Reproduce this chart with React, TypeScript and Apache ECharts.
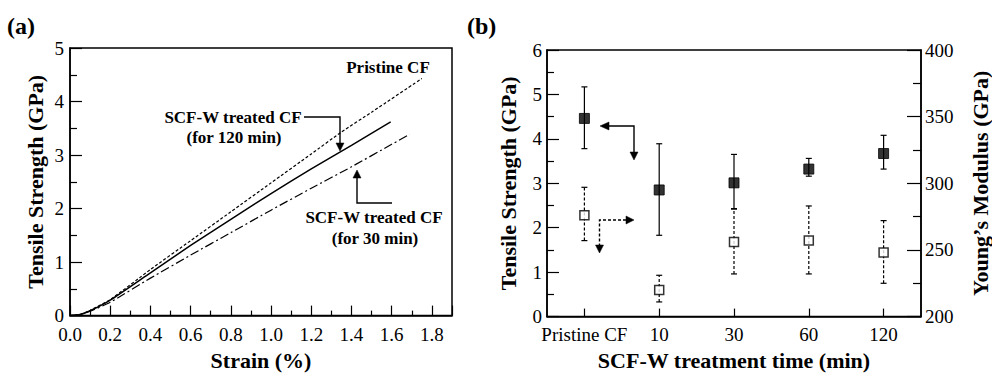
import React, { useEffect, useRef } from "react";
import * as echarts from "echarts";

// Panel (a): stress-strain curves
const strainPristine = [0, 0.05, 0.1, 0.2, 0.4, 0.6, 0.8, 1.0, 1.2, 1.35, 1.5, 1.75];
const stressPristine = [0, 0.02, 0.1, 0.3, 0.86, 1.4, 1.94, 2.48, 3.02, 3.43, 3.8, 4.43];
const strain120 = [0, 0.05, 0.1, 0.2, 0.4, 0.6, 0.8, 1.0, 1.2, 1.4, 1.595];
const stress120 = [0, 0.02, 0.09, 0.29, 0.8, 1.31, 1.8, 2.28, 2.74, 3.18, 3.62];
const strain30 = [0, 0.05, 0.1, 0.2, 0.4, 0.6, 0.8, 1.0, 1.2, 1.4, 1.6, 1.69];
const stress30 = [0, 0.02, 0.08, 0.25, 0.7, 1.13, 1.55, 1.97, 2.38, 2.78, 3.2, 3.39];

// Panel (b): strength and modulus vs treatment time
const categories = ["Pristine CF", "10", "30", "60", "120"];
const tensileMean = [4.46, 2.85, 3.01, 3.32, 3.67];
const tensileLow = [3.78, 1.83, 2.42, 3.16, 3.32];
const tensileHigh = [5.17, 3.89, 3.65, 3.56, 4.08];
const modulusMean = [276, 220, 256, 257, 248];
const modulusLow = [257, 211, 232, 232, 225];
const modulusHigh = [297, 231, 281, 283, 272];

const FONT = "'Liberation Serif', 'Times New Roman', serif";
const BLACK = "#000";

const zip = (a: number[], b: number[]) => a.map((v, i) => [v, b[i]]);

function errorBarSeries(low: number[], high: number[], yAxisIndex: number, dashed: boolean) {
  return {
    type: "custom",
    xAxisIndex: 1,
    yAxisIndex,
    z: 2,
    data: low.map((l, i) => [i, l, high[i]]),
    encode: { x: 0, y: [1, 2] },
    renderItem: (params: any, api: any) => {
      const lo = api.coord([api.value(0), api.value(1)]);
      const hi = api.coord([api.value(0), api.value(2)]);
      const cap = 3;
      const style = {
        stroke: BLACK,
        lineWidth: 1.2,
        lineDash: dashed ? [3, 2] : null,
      };
      const capStyle = { stroke: BLACK, lineWidth: 1.2 };
      return {
        type: "group",
        children: [
          { type: "line", shape: { x1: lo[0], y1: lo[1], x2: hi[0], y2: hi[1] }, style },
          { type: "line", shape: { x1: lo[0] - cap, y1: lo[1], x2: lo[0] + cap, y2: lo[1] }, style: capStyle },
          { type: "line", shape: { x1: hi[0] - cap, y1: hi[1], x2: hi[0] + cap, y2: hi[1] }, style: capStyle },
        ],
      };
    },
  };
}

export default function App() {
  const ref = useRef<HTMLDivElement>(null);

  useEffect(() => {
    document.body.style.margin = "0";
    if (!ref.current) return;
    const chart = echarts.init(ref.current, null, { renderer: "svg" });

    const tickLabel = { color: BLACK, fontFamily: FONT, fontSize: 19 };
    const yTickLabel = { ...tickLabel, lineHeight: 14 };
    const nameStyle = { color: BLACK, fontFamily: FONT, fontSize: 22, fontWeight: "bold" as const };
    const axisLine = { show: true, lineStyle: { color: BLACK, width: 1.5 } };

    const annText = (text: string, x: number, y: number) => ({
      type: "text",
      x,
      y,
      style: {
        text,
        fill: BLACK,
        font: `bold 17px ${FONT}`,
        align: "center",
        verticalAlign: "middle",
      },
    });
    const arrowStyle = { fill: BLACK, stroke: BLACK, lineWidth: 0.5 };
    const lineStyle = { stroke: BLACK, lineWidth: 1.4, fill: null };
    const dashStyle = { stroke: BLACK, lineWidth: 1.4, fill: null, lineDash: [3, 2] };

    const option: any = {
      animation: false,
      backgroundColor: "#fff",
      grid: [
        { left: 70, top: 48, width: 382, height: 275, show: true, borderColor: BLACK, borderWidth: 1.5, backgroundColor: "transparent" },
        { left: 547, top: 50, width: 375, height: 273, show: true, borderColor: BLACK, borderWidth: 1.5, backgroundColor: "transparent" },
      ],
      xAxis: [
        {
          type: "value",
          gridIndex: 0,
          min: 0,
          max: 1.9,
          interval: 0.2,
          name: "Strain (%)",
          nameLocation: "middle",
          nameGap: 32,
          nameTextStyle: nameStyle,
          axisLine,
          axisTick: { show: true, inside: true, length: 10, lineStyle: { color: BLACK, width: 1.2 } },
          minorTick: { show: true, splitNumber: 2, length: 5, lineStyle: { color: BLACK, width: 1.2 } },
          splitLine: { show: false },
          axisLabel: {
            ...tickLabel,
            lineHeight: 16,
            margin: 11,
            showMaxLabel: false,
            formatter: (v: number) =>
              Math.abs(v * 5 - Math.round(v * 5)) < 1e-6 ? v.toFixed(1) : "",
          },
        },
        {
          type: "category",
          gridIndex: 1,
          data: categories,
          boundaryGap: true,
          name: "SCF-W treatment time (min)",
          nameLocation: "middle",
          nameGap: 32,
          nameTextStyle: nameStyle,
          axisLine,
          axisTick: { show: true, inside: true, alignWithLabel: true, length: 8, lineStyle: { color: BLACK, width: 1.2 } },
          splitLine: { show: false },
          axisLabel: { ...tickLabel, lineHeight: 16, margin: 10, interval: 0 },
        },
      ],
      yAxis: [
        {
          type: "value",
          gridIndex: 0,
          min: 0,
          max: 5,
          interval: 1,
          name: "Tensile Strength (GPa)",
          nameLocation: "middle",
          nameRotate: 90,
          nameGap: 24,
          nameTextStyle: nameStyle,
          axisLine,
          axisTick: { show: true, inside: true, length: 12, lineStyle: { color: BLACK, width: 1.2 } },
          minorTick: { show: true, splitNumber: 2, length: 7, lineStyle: { color: BLACK, width: 1.2 } },
          splitLine: { show: false },
          axisLabel: { ...yTickLabel, margin: 6 },
        },
        {
          type: "value",
          gridIndex: 1,
          position: "left",
          min: 0,
          max: 6,
          interval: 1,
          name: "Tensile Strength (GPa)",
          nameLocation: "middle",
          nameRotate: 90,
          nameGap: 28,
          nameTextStyle: nameStyle,
          axisLine,
          axisTick: { show: true, inside: true, length: 12, lineStyle: { color: BLACK, width: 1.2 } },
          minorTick: { show: true, splitNumber: 2, length: 7, lineStyle: { color: BLACK, width: 1.2 } },
          splitLine: { show: false },
          axisLabel: { ...yTickLabel, margin: 5 },
        },
        {
          type: "value",
          gridIndex: 1,
          position: "right",
          min: 200,
          max: 400,
          interval: 50,
          name: "Young\u2019s Modulus (GPa)",
          nameLocation: "middle",
          nameRotate: 90,
          nameGap: 48,
          nameTextStyle: nameStyle,
          axisLine,
          axisTick: { show: true, inside: true, length: 14, lineStyle: { color: BLACK, width: 1.2 } },
          minorTick: { show: true, splitNumber: 2, length: 8, lineStyle: { color: BLACK, width: 1.2 } },
          splitLine: { show: false },
          axisLabel: { ...yTickLabel, margin: 4 },
        },
      ],
      series: [
        {
          type: "line",
          xAxisIndex: 0,
          yAxisIndex: 0,
          data: zip(strainPristine, stressPristine),
          showSymbol: false,
          smooth: 0.2,
          lineStyle: { color: BLACK, width: 1.2, type: [3, 2] },
        },
        {
          type: "line",
          xAxisIndex: 0,
          yAxisIndex: 0,
          data: zip(strain120, stress120),
          showSymbol: false,
          smooth: 0.2,
          lineStyle: { color: BLACK, width: 1.5, type: "solid" },
        },
        {
          type: "line",
          xAxisIndex: 0,
          yAxisIndex: 0,
          data: zip(strain30, stress30),
          showSymbol: false,
          smooth: 0.2,
          lineStyle: { color: BLACK, width: 1.2, type: [9, 3, 2, 3] },
        },
        errorBarSeries(tensileLow, tensileHigh, 1, false),
        errorBarSeries(modulusLow, modulusHigh, 2, true),
        {
          type: "scatter",
          xAxisIndex: 1,
          yAxisIndex: 1,
          z: 3,
          symbol: "rect",
          symbolSize: 10,
          data: tensileMean.map((v, i) => [i, v]),
          itemStyle: { color: BLACK, borderColor: BLACK, borderWidth: 1 },
        },
        {
          type: "scatter",
          xAxisIndex: 1,
          yAxisIndex: 2,
          z: 3,
          symbol: "rect",
          symbolSize: 9,
          data: modulusMean.map((v, i) => [i, v]),
          itemStyle: { color: "#fff", borderColor: BLACK, borderWidth: 1.5 },
        },
      ],
      graphic: [
        {
          type: "text",
          left: 7,
          top: 14,
          style: { text: "(a)", fill: BLACK, font: `bold 24px ${FONT}` },
        },
        {
          type: "text",
          left: 467,
          top: 14,
          style: { text: "(b)", fill: BLACK, font: `bold 24px ${FONT}` },
        },
        annText("Pristine CF", 388, 67),
        annText("SCF-W treated CF", 233, 117),
        annText("(for 120 min)", 234, 137),
        { type: "polyline", shape: { points: [[304, 117], [340, 117], [340, 143]] }, style: lineStyle },
        { type: "polygon", shape: { points: [[336, 143], [344, 143], [340, 151]] }, style: arrowStyle },
        annText("SCF-W treated CF", 374, 217),
        annText("(for 30 min)", 375, 238),
        { type: "polyline", shape: { points: [[392, 203], [357, 203], [357, 178]] }, style: lineStyle },
        { type: "polygon", shape: { points: [[353, 178], [361, 178], [357, 170]] }, style: arrowStyle },
        // panel (b) arrows
        { type: "polyline", shape: { points: [[609, 126], [634, 126], [634, 152]] }, style: lineStyle },
        { type: "polygon", shape: { points: [[600, 126], [609, 122], [609, 130]] }, style: arrowStyle },
        { type: "polygon", shape: { points: [[630, 152], [638, 152], [634, 160]] }, style: arrowStyle },
        { type: "polyline", shape: { points: [[626, 220], [599.5, 220], [599.5, 245]] }, style: dashStyle },
        { type: "polygon", shape: { points: [[634, 220], [626, 216], [626, 224]] }, style: arrowStyle },
        { type: "polygon", shape: { points: [[595.5, 245], [603.5, 245], [599.5, 253]] }, style: arrowStyle },
      ],
    };

    chart.setOption(option);
    return () => chart.dispose();
  }, []);

  return <div ref={ref} style={{ width: 992, height: 376 }} />;
}
